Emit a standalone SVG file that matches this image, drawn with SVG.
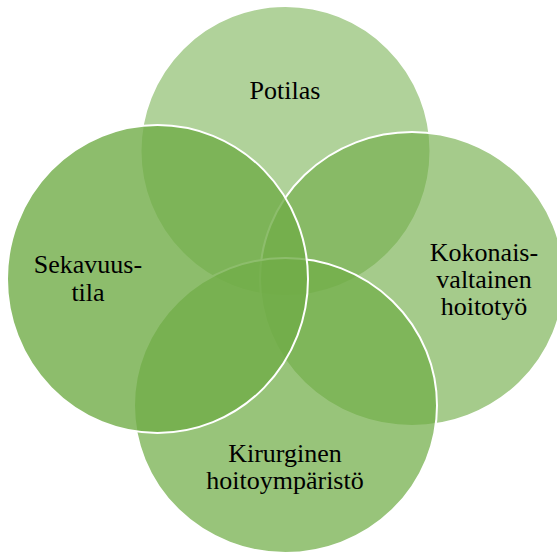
<svg xmlns="http://www.w3.org/2000/svg" width="557" height="555" viewBox="0 0 557 555">
<style>
.c{fill:#70AD47;stroke:#FFFFFF;stroke-width:2}
.t{font-family:"Liberation Serif","Times New Roman",serif;font-size:26px;fill:#000000;text-anchor:middle}
</style>
<rect width="557" height="555" fill="#FFFFFF"/>
<g id="connectors"/>
<g id="potilas">
<ellipse class="c" cx="285.5" cy="151" rx="145" ry="145" fill-opacity="0.55"/>
<text class="t" x="285" y="99">Potilas</text>
</g>
<g id="kokonaisvaltainen">
<ellipse class="c" cx="412" cy="279" rx="152" ry="147" fill-opacity="0.63"/>
<text class="t" x="484" y="261">Kokonais-</text>
<text class="t" x="484" y="288">valtainen</text>
<text class="t" x="484" y="314.5">hoitotyö</text>
</g>
<g id="kirurginen">
<ellipse class="c" cx="285.5" cy="405.5" rx="151.5" ry="147.5" fill-opacity="0.72"/>
<text class="t" x="285" y="461.5">Kirurginen</text>
<text class="t" x="285" y="488.5">hoitoympäristö</text>
</g>
<g id="sekavuustila">
<ellipse class="c" cx="157.5" cy="279" rx="150.5" ry="154" fill-opacity="0.8"/>
<text class="t" x="88" y="273">Sekavuus-</text>
<text class="t" x="88" y="300.5">tila</text>
</g>
</svg>
